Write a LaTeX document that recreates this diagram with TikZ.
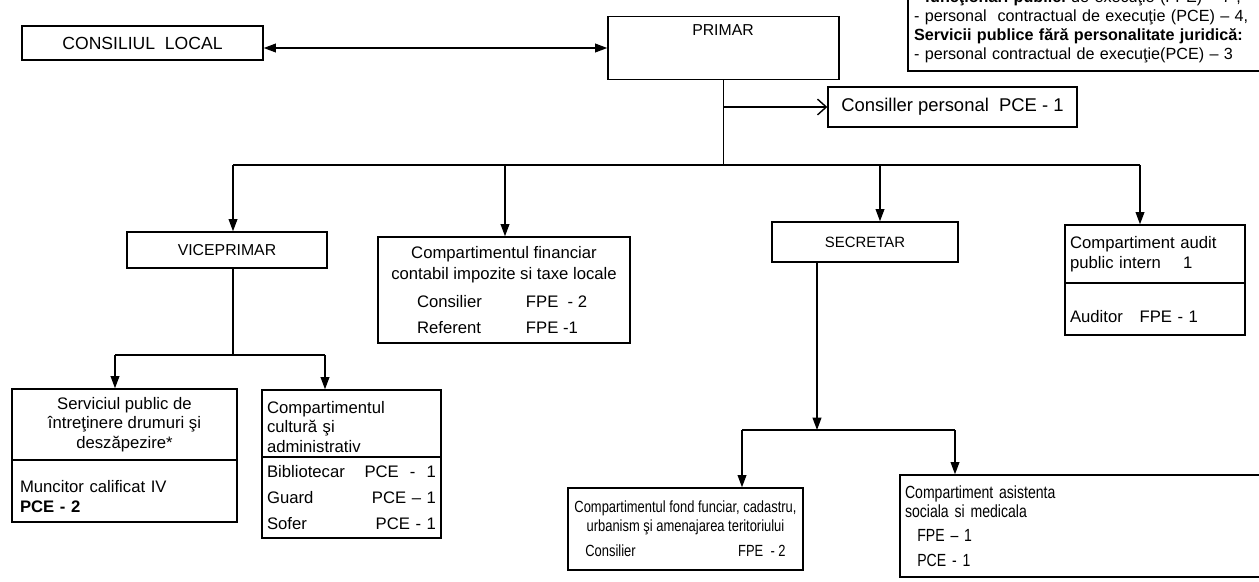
\documentclass[tikz,border=0pt]{standalone}
\usepackage{fontspec}
\setmainfont{Liberation Sans}
\newfontfamily\narrowsf[FakeStretch=0.8]{Liberation Sans}
\usetikzlibrary{arrows.meta}

\tikzset{
  box/.style={draw, line width=0.8pt, inner sep=0pt},
  tip/.style={-{Triangle[length=7pt,width=5pt]}},
  open tip/.style={-{Straight Barb[length=5pt,width=9pt]}},
  both tips/.style={{Triangle[length=7pt,width=5pt]}-{Triangle[length=7pt,width=5pt]}},
}

\begin{document}
\begin{tikzpicture}[x=0.02cm, y=-0.02cm, line width=0.8pt,
  font=\fontsize{9.5}{11.5}\selectfont]
  \useasboundingbox (0,0) rectangle (1259,582);
  \clip (0,0) rectangle (1259,582);

  % legend, cut at the top of the page
  \node[box, minimum width=7.34cm, minimum height=1.76cm, text width=7.1cm, align=left,
    font=\fontsize{9.2}{10.8}\selectfont] (legend) at (1091.5,27)
    {- \textbf{funcţionari publici} de execuţie (FPE) – 7 ,\\
     - personal\ \ contractual de execuţie (PCE) – 4,\\
     \textbf{Servicii publice fără personalitate juridică:}\\
     - personal contractual de execuţie(PCE) – 3};

  % top level
  \node[box, minimum width=4.82cm, minimum height=0.68cm, font=\fontsize{10}{12}\selectfont]
    (consiliu) at (142.5,43) {CONSILIUL\ \ LOCAL};
  \node[box, minimum width=4.62cm, minimum height=1.26cm] (primar) at (723.5,48) {};
  \node[font=\fontsize{9}{11}\selectfont] (primar-t) at (723,30) {PRIMAR};
  \node[box, minimum width=4.98cm, minimum height=0.8cm, font=\fontsize{10.5}{12}\selectfont]
    (consilier) at (952.5,107) {Consiller personal\ \ PCE - 1};

  \draw[both tips] ([yshift=-0.1cm]consiliu.east) -- ([yshift=-0.1cm]consiliu.east -| primar.west);
  \coordinate (hub) at (primar.south |- 0,165);
  \draw (primar.south) -- (hub);
  \draw[open tip] (primar.south |- consilier.west) -- (consilier.west);

  % second level
  \node[box, minimum width=4cm, minimum height=0.72cm, font=\fontsize{9}{11}\selectfont]
    (vice) at (227,250) {VICEPRIMAR};
  \node[box, minimum width=5.04cm, minimum height=2.12cm, align=center,
    font=\fontsize{9.5}{12}\selectfont] (finance) at (504,290)
    {Compartimentul financiar\\contabil impozite si taxe locale\\[4pt]
     \makebox[62pt][l]{Consilier}\makebox[37pt][l]{FPE\ \ - 2}\\[3pt]
     \makebox[62pt][l]{Referent}\makebox[37pt][l]{FPE -1}};
  \node[box, minimum width=3.72cm, minimum height=0.8cm, font=\fontsize{8.5}{10}\selectfont]
    (secretar) at (865,242) {SECRETAR};
  \node[box, minimum width=3.6cm, minimum height=1.16cm, text width=3.4cm, align=left]
    (audit) at (1155,254) {Compartiment audit\\public intern\ \ \ \ 1};
  \node[box, minimum width=3.6cm, minimum height=1.04cm, text width=3.4cm, align=left]
    (audit-b) at (1155,309) {\raisebox{-4.5pt}[\height][\depth]{Auditor\ \ \ FPE - 1}};

  \coordinate (h1) at (233,165);
  \coordinate (h2) at (505,165);
  \coordinate (h3) at (880,165);
  \coordinate (h4) at (1140,165);
  \draw (h1) -- (h4);
  \draw[tip] (h1) -- (h1 |- vice.north);
  \draw[tip] (h2) -- (h2 |- finance.north);
  \draw[tip] (h3) -- (h3 |- secretar.north);
  \draw[tip] (h4) -- (h4 |- audit.north);

  % under the viceprimar
  \node[box, minimum width=4.5cm, minimum height=1.42cm, align=center,
    font=\fontsize{9.5}{11.2}\selectfont] (service) at (124.5,424.5)
    {Serviciul public de\\întreţinere drumuri şi\\deszăpezire*};
  \node[box, minimum width=4.5cm, minimum height=1.24cm, text width=4.18cm, align=left]
    (service-b) at (124.5,491)
    {\raisebox{-3pt}[\height][\depth]{Muncitor calificat IV}\\\raisebox{-3pt}[\height][\depth]{\textbf{PCE - 2}}};
  \node[box, minimum width=3.58cm, minimum height=1.34cm, text width=3.38cm, align=left,
    font=\fontsize{9.5}{11.2}\selectfont] (culture) at (351.5,423.5)
    {\raisebox{-2pt}[\height][\depth]{Compartimentul}\\\raisebox{-2pt}[\height][\depth]{cultură şi}\\\raisebox{-2pt}[\height][\depth]{administrativ}};
  \node[box, minimum width=3.58cm, minimum height=1.62cm, text width=3.38cm, align=left,
    font=\fontsize{9.5}{15}\selectfont] (culture-b) at (351.5,497.5)
    {Bibliotecar\hfill PCE\ \ -\ \ 1\\Guard\hfill PCE – 1\\Sofer\hfill PCE - 1};

  \coordinate (v1) at (115,355);
  \coordinate (v2) at (325,355);
  \draw (h1 |- vice.south) -- (h1 |- v1);
  \draw (v1) -- (v2);
  \draw[tip] (v1) -- (v1 |- service.north);
  \draw[tip] (v2) -- (v2 |- culture.north);

  % under the secretar
  \node[box, minimum width=4.7cm, minimum height=1.64cm, align=center,
    font=\narrowsf\fontsize{9.2}{10.5}\selectfont] (cadastre) at (685.5,529)
    {Compartimentul fond funciar, cadastru,\\urbanism şi amenajarea teritoriului\\[4pt]
     \makebox[87pt][l]{Consilier}FPE\ \ - 2};
  \node[box, minimum width=7.5cm, minimum height=2.04cm, text width=7.3cm, align=left,
    font=\narrowsf\fontsize{10}{11}\selectfont] (social) at (1087.5,526)
    {Compartiment asistenta\\sociala si medicala\\[3pt]
     \hspace*{7pt}FPE – 1\\[3pt]\hspace*{7pt}PCE - 1};

  \coordinate (shub) at (817,430);
  \coordinate (s1) at (742,430);
  \coordinate (s2) at (955,430);
  \draw[tip] (secretar.south -| shub) -- (shub);
  \draw (s1) -- (s2);
  \draw[tip] (s1) -- (s1 |- cadastre.north);
  \draw[tip] (s2) -- (s2 |- social.north);
\end{tikzpicture}
\end{document}
